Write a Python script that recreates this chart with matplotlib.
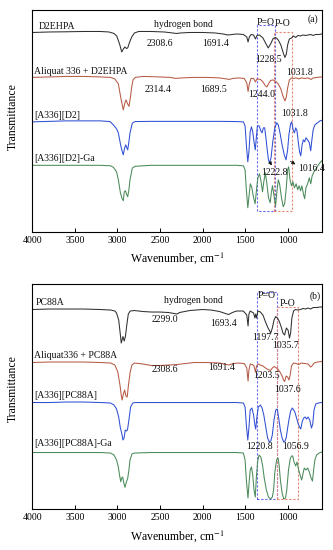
"""FTIR spectra of the D2EHPA and PC88A ionic liquid systems, stacked with offsets
"""
import matplotlib.pyplot as plt

plt.rcParams['font.family'] = ['Liberation Serif', 'DejaVu Serif']
plt.rcParams['mathtext.fontset'] = 'stix'

# ---- panel (a) ----
wn_d2ehpa = [4000, 3800, 3600, 3400, 3200, 3100, 3040, 3008, 2975, 2949, 2930, 2911, 2895, 2879, 2860,
             2832, 2800, 2750, 2600, 2450, 2350, 2308, 2260, 2150, 2000, 1850, 1760, 1700, 1650, 1600,
             1520, 1480, 1465, 1450, 1430, 1400, 1378, 1360, 1330, 1290, 1260, 1228, 1200, 1170, 1140,
             1110, 1080, 1055, 1032, 1015, 1000, 980, 955, 930, 905, 880, 850, 820, 790, 760, 730, 700,
             670, 630, 600]
t_d2ehpa = [199.5, 200, 200.2, 200.5, 200.5, 200, 198.5, 196, 188, 180, 183, 185, 183.5, 184, 189,
            195, 199, 200.5, 200.5, 200, 199, 198.5, 199, 199.5, 199.5, 199, 198, 197, 197.5, 198,
            197.5, 195, 190, 195, 197.5, 197, 193, 196.5, 197, 194, 189, 184, 188, 193.5, 194.5,
            192, 187, 180, 174.5, 178, 187, 193, 194, 196, 194.5, 196.5, 196, 197, 196.5, 197, 197.5, 196.5,
            197.5, 197.5, 198]

wn_aliq_d2 = [4000, 3800, 3600, 3400, 3200, 3080, 3030, 2989, 2960, 2931, 2915, 2899, 2880, 2864, 2845,
              2832, 2817, 2790, 2700, 2500, 2380, 2314, 2250, 2100, 1950, 1800, 1720, 1689, 1640, 1580,
              1510, 1480, 1465, 1450, 1430, 1400, 1378, 1360, 1320, 1290, 1260, 1244, 1225, 1200, 1170,
              1140, 1110, 1080, 1055, 1032, 1015, 1000, 980, 955, 930, 900, 870, 840, 800, 760, 725, 700,
              650, 600]
t_aliq_d2 = [154.5, 155, 155.5, 155.5, 155, 154.5, 153, 148, 134, 122, 128, 132, 128, 125.5, 136,
             145, 152, 154.5, 155.5, 155, 154.5, 153.5, 154, 154.5, 154.5, 154, 153, 152.5, 153.5, 154,
             153.5, 149, 140.5, 148, 153.5, 153.5, 150, 153, 152.5, 150, 146, 145, 148, 151.5, 152,
             150.5, 148, 143, 136, 131, 135, 144, 152, 154, 153.5, 154, 153, 154, 153.5, 154, 152.5, 154,
             154.5, 155]

wn_a336_d2 = [4000, 3800, 3600, 3400, 3200, 3087, 3048, 3010, 2989, 2965, 2949, 2931, 2915, 2902, 2890,
              2879, 2865, 2852, 2825, 2793, 2600, 2400, 2200, 2000, 1800, 1600, 1520, 1500, 1485, 1468,
              1455, 1440, 1425, 1410, 1395, 1380, 1368, 1355, 1335, 1315, 1300, 1285, 1270, 1255, 1240,
              1225, 1212, 1195, 1175, 1150, 1128, 1110, 1090, 1065, 1040, 1019, 1000, 985, 965, 952,
              935, 920, 905, 890, 875, 860, 846, 830, 815, 800, 785, 765, 745, 729, 715, 700, 680, 650,
              620, 600]
t_a336_d2 = [110, 110.5, 111, 111, 111, 110.3, 107, 103, 99, 88, 82, 77, 84, 87, 84,
             82, 90, 99, 108.7, 110.3, 110.5, 110.5, 110.5, 110.5, 110.5, 110.3, 110, 106, 87, 70,
             80, 100, 105, 100, 90, 82, 94, 106, 106, 101, 99, 104, 104, 94, 82,
             72, 69, 74, 90, 104, 109, 107, 99, 87, 77, 72, 82, 97, 108, 110,
             102, 99, 104, 101, 90, 80, 76, 87, 92, 90, 94, 92, 89, 81, 92, 102, 107, 109,
             111, 111.5]

wn_a336_d2_ga = [4000, 3600, 3200, 3080, 3048, 3010, 2989, 2965, 2949, 2931, 2919, 2905, 2890, 2879, 2865,
                 2852, 2825, 2793, 2600, 2200, 1800, 1600, 1520, 1500, 1485, 1468, 1452, 1438, 1420, 1400,
                 1382, 1368, 1350, 1330, 1312, 1295, 1280, 1262, 1245, 1225, 1205, 1190, 1178, 1160, 1142,
                 1126, 1110, 1095, 1072, 1052, 1035, 1018, 1000, 988, 972, 955, 938, 920, 900, 882, 865,
                 848, 832, 815, 800, 785, 765, 745, 728, 712, 690, 660, 630, 600]
t_a336_d2_ga = [66.5, 66.5, 66.5, 66, 64.5, 60, 52, 39, 34, 31, 40, 41, 37, 35, 42,
                52, 63.7, 65.5, 66.5, 66.5, 66.5, 66.5, 66, 62, 42, 24, 37, 48, 44, 34,
                28, 40, 54, 58, 50, 40, 50, 59, 49, 34, 29, 40, 46, 36, 26,
                40, 52, 48, 34, 25, 28, 42, 62, 65, 52, 46, 50, 44, 48, 42, 46,
                41, 46, 38, 33, 44, 48, 54, 48, 56, 60, 64, 68, 71]

# ---- panel (b) ----
wn_pc88a = [4000, 3800, 3600, 3400, 3200, 3080, 3030, 3010, 2985, 2965, 2955, 2935, 2920, 2905, 2890,
            2872, 2850, 2800, 2700, 2600, 2500, 2400, 2330, 2299, 2270, 2150, 2000, 1900, 1800, 1730,
            1693, 1650, 1600, 1520, 1480, 1465, 1455, 1440, 1420, 1400, 1385, 1375, 1365, 1350, 1320,
            1290, 1260, 1230, 1198, 1180, 1160, 1140, 1120, 1100, 1075, 1055, 1036, 1015, 995, 978,
            965, 950, 930, 910, 880, 850, 820, 790, 760, 730, 700, 660, 620, 600]
t_pc88a = [199.5, 200, 200, 200, 199.5, 199, 198, 196, 189, 174, 166, 172.5, 168, 173, 184,
           195, 198, 198.5, 197.5, 197, 197, 196.5, 195.5, 195, 196.5, 198.5, 199.5, 199, 197.5, 195.5,
           194.5, 196.5, 198, 198, 194, 183, 195, 198, 197, 196, 191, 195, 191, 198, 197,
           194, 187, 181, 176, 181, 189, 192.5, 191, 188, 182, 176, 174, 181, 179, 171,
           176, 191, 198, 199.5, 199, 199.5, 200.5, 200, 201, 200, 201.5, 201.5, 202, 202]

wn_aliq_pc = [4000, 3800, 3600, 3400, 3200, 3080, 3030, 2995, 2970, 2955, 2945, 2930, 2915, 2900, 2885,
              2870, 2850, 2830, 2800, 2700, 2600, 2500, 2400, 2300, 2200, 2100, 1950, 1800, 1720, 1691,
              1640, 1580, 1510, 1480, 1465, 1455, 1440, 1415, 1395, 1378, 1365, 1345, 1320, 1290, 1260,
              1230, 1203, 1180, 1160, 1140, 1115, 1090, 1065, 1048, 1035, 1018, 1000, 985, 970, 955,
              930, 900, 870, 840, 800, 760, 730, 715, 690, 650, 600]
t_aliq_pc = [146.5, 147, 147, 147, 146.5, 146, 144, 137, 124, 114, 109, 115, 119, 113, 112,
             124, 137, 144, 146, 145, 143.5, 143.5, 144, 144.5, 145.5, 146.5, 146.5, 146, 144.5, 144,
             145.5, 146, 145.5, 141, 128, 139, 145, 144.5, 143, 137, 143, 145, 144, 143, 141,
             139.5, 138.5, 141, 142.5, 141.5, 140, 137, 133, 129, 127.5, 133, 132, 129, 134, 143,
             146, 145.5, 144.5, 146, 145.5, 145, 142, 143, 146, 147, 147.5]

wn_a336_pc = [4000, 3800, 3600, 3400, 3200, 3080, 3040, 3010, 2985, 2965, 2950, 2935, 2922, 2908, 2895,
              2882, 2865, 2845, 2820, 2790, 2600, 2400, 2200, 2000, 1800, 1600, 1520, 1500, 1485, 1468,
              1455, 1440, 1420, 1400, 1385, 1375, 1362, 1345, 1320, 1300, 1280, 1255, 1235, 1215, 1198,
              1180, 1160, 1140, 1122, 1105, 1085, 1065, 1045, 1030, 1015, 1000, 985, 965, 945, 930,
              915, 895, 875, 860, 846, 830, 812, 795, 778, 760, 740, 720, 705, 690, 670, 640, 600]
t_a336_pc = [106.5, 106.5, 107, 107, 106.5, 106, 104, 100, 92, 81, 76, 69, 71, 79, 78,
             79, 89, 102, 106, 106.5, 106.5, 106.5, 106.5, 106.5, 106.5, 106.5, 106, 102, 84, 69,
             81, 99, 101, 94, 84, 80, 91, 102, 104, 101, 94, 81, 71, 67, 68,
             74, 89, 99, 100, 91, 79, 71, 67, 68, 72, 81, 89, 98, 101, 99,
             97, 91, 85, 82, 80, 87, 91, 92, 90, 92, 89, 81, 85, 99, 105, 106, 106.5]

wn_a336_pc_ga = [4000, 3600, 3200, 3080, 3040, 3010, 2989, 2975, 2961, 2950, 2938, 2925, 2911, 2895, 2879,
                 2865, 2852, 2830, 2800, 2600, 2200, 1800, 1600, 1520, 1500, 1485, 1466, 1452, 1440, 1425,
                 1410, 1395, 1380, 1368, 1352, 1335, 1315, 1295, 1275, 1250, 1225, 1200, 1180, 1165, 1150,
                 1130, 1112, 1100, 1085, 1065, 1045, 1025, 1010, 990, 970, 955, 940, 925, 905, 890, 870,
                 850, 835, 820, 805, 785, 765, 745, 725, 708, 695, 680, 660, 630, 600]
t_a336_pc_ga = [56.5, 56.5, 56.5, 56, 54, 49, 42, 34, 27.3, 31, 32, 26, 21.7, 27, 30.7,
                39, 49, 55, 56, 56.5, 56.5, 56.5, 56.5, 56, 49, 29, 11, 27, 39, 42,
                34, 19, 12, 31, 48, 54, 52, 44, 31, 19, 12, 10, 12, 19, 37,
                49, 51, 44, 29, 16, 10, 11, 19, 39, 50, 53, 53, 47, 43, 47, 39,
                33, 29, 35, 41, 39, 41, 37, 31, 28, 39, 49, 54, 56, 57]

xticks = [4000, 3500, 3000, 2500, 2000, 1500, 1000]

# P=O and P-O regions: (high wn, low wn, top, bottom)
box_po_double_a = (1365, 1148, 206.5, 20.3)
box_po_single_a = (1160, 945, 200, 20.3)
box_po_double_b = (1356, 1130, 217.3, 9.7)
box_po_single_b = (1130, 884, 202, 9.7)

c_black = '#303030'
c_red = '#b65a44'
c_blue = '#2f4fd4'
c_green = '#4a8a5a'
c_box_blue = '#6464ec'
c_box_red = '#e8846e'

fig = plt.figure(figsize=(3.33, 5.5), dpi=100)
ax_a = fig.add_axes([0.097, 0.5787, 0.869, 0.4031])
ax_b = fig.add_axes([0.097, 0.0745, 0.869, 0.4091])


def draw_box(ax, box, color):
    hi, lo, top, bottom = box
    ax.plot([hi, hi, lo, lo, hi], [bottom, top, top, bottom, bottom], color=color,
            lw=0.8, ls=(0, (2.0, 1.6)), zorder=1)


def note(ax, x, y, s, ha='center'):
    ax.text(x, y, s, fontsize=7, ha=ha, va='center', color='#111111', zorder=5)


# panel (a)
ax = ax_a
ax.plot(wn_d2ehpa, t_d2ehpa, color=c_black, lw=0.75)
ax.plot(wn_aliq_d2, t_aliq_d2, color=c_red, lw=0.75)
ax.plot(wn_a336_d2, t_a336_d2, color=c_blue, lw=0.75)
ax.plot(wn_a336_d2_ga, t_a336_d2_ga, color=c_green, lw=0.75)
draw_box(ax, box_po_double_a, c_box_blue)
draw_box(ax, box_po_single_a, c_box_red)
ax.set_ylim(0, 222)
note(ax, 3921, 205.3, 'D2EHPA', ha='left')
note(ax, 2229, 207, 'hydrogen bond')
note(ax, 2499, 188, '2308.6')
note(ax, 1841, 188, '1691.4')
note(ax, 1254, 209.5, 'P=O')
note(ax, 1058, 208, 'P-O')
note(ax, 701, 212.7, '(a)')
note(ax, 1227, 172, '1228.5')
note(ax, 854, 159.7, '1031.8')
note(ax, 3976, 160.3, 'Aliquat 336 + D2EHPA', ha='left')
note(ax, 2519, 142.7, '2314.4')
note(ax, 1873, 142.7, '1689.5')
note(ax, 1304, 137.7, '1244.0')
note(ax, 913, 118.7, '1031.8')
note(ax, 3976, 116, '[A336][D2]', ha='left')
note(ax, 3976, 73.7, '[A336][D2]-Ga', ha='left')
note(ax, 1150, 59, '1222.8')
note(ax, 874, 63.7, '1016.4', ha='left')
arrow = dict(arrowstyle='-|>', color='#111111', lw=0.6, mutation_scale=5)
ax.annotate('', xy=(1168, 64), xytext=(1212, 70), arrowprops=arrow)
ax.annotate('', xy=(880, 66), xytext=(995, 72), arrowprops=arrow)

# panel (b)
ax = ax_b
ax.plot(wn_pc88a, t_pc88a, color=c_black, lw=0.75)
ax.plot(wn_aliq_pc, t_aliq_pc, color=c_red, lw=0.75)
ax.plot(wn_a336_pc, t_a336_pc, color=c_blue, lw=0.75)
ax.plot(wn_a336_pc_ga, t_a336_pc_ga, color=c_green, lw=0.75)
draw_box(ax, box_po_double_b, c_box_blue)
draw_box(ax, box_po_single_b, c_box_red)
ax.set_ylim(0, 225)
note(ax, 3960, 206.7, 'PC88A', ha='left')
note(ax, 2112, 208.3, 'hydrogen bond')
note(ax, 1246, 214, 'P=O')
note(ax, 1004, 206, 'P-O')
note(ax, 678, 213, '(b)')
note(ax, 2441, 189.7, '2299.0')
note(ax, 1747, 185.7, '1693.4')
note(ax, 1266, 171.3, '1197.7')
note(ax, 1019, 164, '1035.7')
note(ax, 3976, 154, 'Aliquat336 + PC88A', ha='left')
note(ax, 2441, 139.7, '2308.6')
note(ax, 1773, 142, '1691.4')
note(ax, 1250, 134, '1203.5')
note(ax, 1007, 119.5, '1037.6')
note(ax, 3976, 114, '[A336][PC88A]', ha='left')
note(ax, 1336, 62.3, '1220.8')
note(ax, 905, 62.3, '1056.9')
note(ax, 3976, 65.7, '[A336][PC88A]-Ga', ha='left')

for ax in (ax_a, ax_b):
    ax.set_xlim(4000, 600)
    ax.set_xticks(xticks)
    ax.set_yticks([])
    ax.tick_params(axis='x', direction='in', length=3, width=0.7, labelsize=7, pad=3)
    ax.set_xlabel('Wavenumber, cm$^{-1}$', fontsize=8.5, labelpad=4)
    for sp in ax.spines.values():
        sp.set_linewidth(0.8)

fig.text(13 / 333, 1 - 116.5 / 550, 'Transmittance', rotation=90, fontsize=8.5,
         ha='center', va='center')
fig.text(13 / 333, 1 - 389 / 550, 'Transmittance', rotation=90, fontsize=8.5,
         ha='center', va='center')

fig.savefig('out.png', dpi=100)
